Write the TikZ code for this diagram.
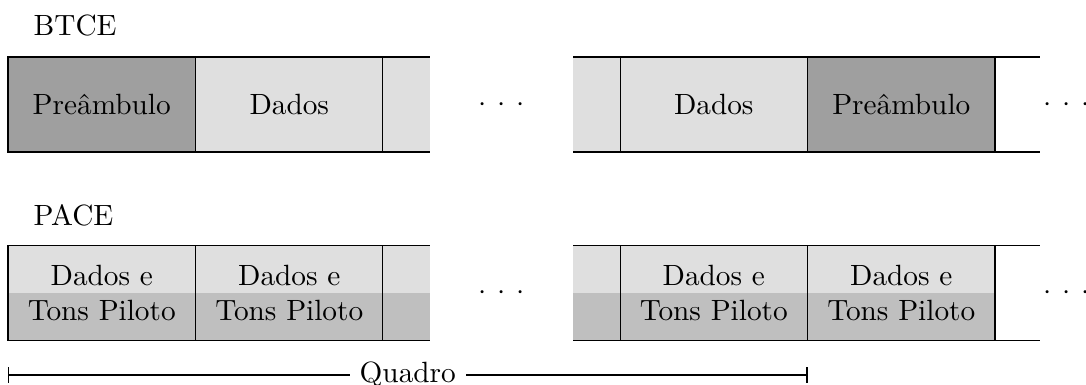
\documentclass[tikz,border=0pt]{standalone}
\usepackage{amsmath}
\usepackage{tikz}
\usetikzlibrary{positioning}

\begin{document}
\begin{tikzpicture}[
            cell/.style={draw, minimum width=\W, minimum height=\H, inner sep=0pt, outer sep=0pt},
            pre node/.style={cell, fill=gray!75},
            dat node/.style={cell, fill=gray!25},
            pil node/.style={cell, align=center,
                path picture={
                    \fill[gray!25] (path picture bounding box.north west) rectangle (path picture bounding box.east);
                    \fill[gray!50] (path picture bounding box.west) rectangle (path picture bounding box.south east);
                }},
            ]
            \def\W{2.25cm}
            \def\H{1.14cm}
            \def\dots{$\cdot$\hspace{3.7pt}$\cdot$\hspace{3.7pt}$\cdot$}
            \useasboundingbox (0,0) rectangle (13.032,-4.62);

            % BTCE
            \node[anchor=west] (btce) at (0.28,-0.3) {BTCE};
            \node[pre node] (b1) at (1.221,-1.254) {Preâmbulo};
            \node[dat node, right=0pt of b1] (b2) {Dados};
            \fill[gray!25] (b2.north east) rectangle ++(0.56,-1.14);
            \draw (b2.north east) -- ++(0.56,0);
            \draw (b2.south east) -- ++(0.56,0);
            \node (d1) at (6.024,-1.254) {\dots};

            \node[dat node] (b3) at (8.565,-1.254) {Dados};
            \node[pre node, right=0pt of b3] (b4) {Preâmbulo};
            \fill[gray!25] (b3.north west) rectangle ++(-0.564,-1.14);
            \draw (b3.north west) -- ++(-0.564,0);
            \draw (b3.south west) -- ++(-0.564,0);
            \draw (b4.north east) -- ++(0.54,0);
            \draw (b4.south east) -- ++(0.54,0);
            \node (d2) at (12.804,-1.254) {\dots};

            % PACE
            \node[anchor=west] (pace) at (0.28,-2.58) {PACE};
            \node[pil node] (p1) at (1.221,-3.516) {Dados e\\Tons Piloto};
            \node[pil node, right=0pt of p1] (p2) {Dados e\\Tons Piloto};
            \fill[gray!25] (p2.north east) rectangle ++(0.56,-0.57);
            \fill[gray!50] (p2.east) rectangle ++(0.56,-0.57);
            \draw (p2.north east) -- ++(0.56,0);
            \draw (p2.south east) -- ++(0.56,0);
            \node (d3) at (6.024,-3.516) {\dots};

            \node[pil node] (p3) at (8.565,-3.516) {Dados e\\Tons Piloto};
            \node[pil node, right=0pt of p3] (p4) {Dados e\\Tons Piloto};
            \fill[gray!25] (p3.north west) rectangle ++(-0.564,-0.57);
            \fill[gray!50] (p3.west) rectangle ++(-0.564,-0.57);
            \draw (p3.north west) -- ++(-0.564,0);
            \draw (p3.south west) -- ++(-0.564,0);
            \draw (p4.north east) -- ++(0.54,0);
            \draw (p4.south east) -- ++(0.54,0);
            \node (d4) at (12.804,-3.516) {\dots};

            % Quadro
            \coordinate (q1) at ([yshift=-0.414cm]p1.south west);
            \coordinate (q2) at ([yshift=-0.414cm]p3.south east);
            \draw[|-|] (q1) -- node[fill=white] (quadro) {Quadro} (q2);
        \end{tikzpicture}
\end{document}
